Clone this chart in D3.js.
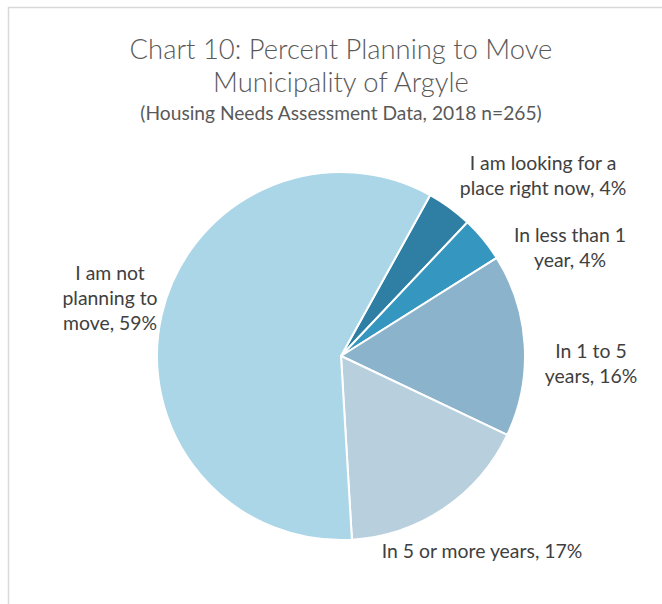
<!DOCTYPE html>
<html>
<head>
<meta charset="utf-8">
<script src="https://cdn.jsdelivr.net/npm/d3@7"></script>
<style>
body { margin:0; background:#fff; }
text { font-family: Lato, "Open Sans", sans-serif; }
</style>
</head>
<body>
<script>
var categories = ["I am looking for a place right now", "In less than 1 year", "In 1 to 5 years", "In 5 or more years", "I am not planning to move"];
var percents   = [4, 4, 16, 17, 59];
var labelLines = [
    ["I am looking for a", "place right now, 4%"],
    ["In less than 1", "year, 4%"],
    ["In 1 to 5", "years, 16%"],
    ["In 5 or more years, 17%"],
    ["I am not", "planning to", "move, 59%"]
];
var colors = ["#2E7FA3", "#3596BF", "#8BB4CC", "#B8CFDD", "#ABD6E7"];

var width  = 662;
var height = 604;
var cx = 341, cy = 356, radius = 184;

// where each label block is centred, relative to the pie centre
var labelOffsets = [[202, -180], [229, -108], [250, 8], [141, 196], [-231, -57]];

var svg = d3.select("body").append("svg").attr("width", width).attr("height", height);

// chart area border (runs off the right and bottom edges)
svg.append("rect").attr("x", 8.5).attr("y", 7.5).attr("width", 700).attr("height", 700)
    .attr("fill", "none").attr("stroke", "#D9D9D9").attr("stroke-width", 1.5);

svg.append("text").attr("x", 341).attr("y", 59).attr("text-anchor", "middle")
    .attr("font-size", "27.4px").attr("font-weight", 300).attr("fill", "#595959")
    .text("Chart 10: Percent Planning to Move");
svg.append("text").attr("x", 341).attr("y", 92).attr("text-anchor", "middle")
    .attr("font-size", "27.4px").attr("font-weight", 300).attr("fill", "#595959")
    .text("Municipality of Argyle");
svg.append("text").attr("x", 341).attr("y", 120).attr("text-anchor", "middle")
    .attr("font-size", "19.2px").attr("fill", "#595959")
    .text("(Housing Needs Assessment Data, 2018 n=265)");

var start = 29 * Math.PI / 180;
var pie = d3.pie().sort(null).value(function(d){return d;})
    .startAngle(start).endAngle(start + 2 * Math.PI);
var arc = d3.arc().innerRadius(0).outerRadius(radius);

var chartGroup = svg.append("g").attr("transform", "translate(" + cx + ", " + cy + ")");

chartGroup.selectAll("path").data(pie(percents)).enter().append("path")
    .attr("d", arc)
    .attr("fill", function(d, i){return colors[i];})
    .attr("stroke", "#fff").attr("stroke-width", 2).attr("stroke-linejoin", "round");

var lineH = 25;
labelLines.forEach(function(lines, i) {
    var t = chartGroup.append("text").attr("text-anchor", "middle")
        .attr("font-size", "19.4px").attr("fill", "#404040");
    var y0 = labelOffsets[i][1] - (lines.length - 1) * lineH / 2 + 6;
    lines.forEach(function(s, j) {
        t.append("tspan").attr("x", labelOffsets[i][0]).attr("y", y0 + j * lineH).text(s);
    });
});
</script>
</body>
</html>
